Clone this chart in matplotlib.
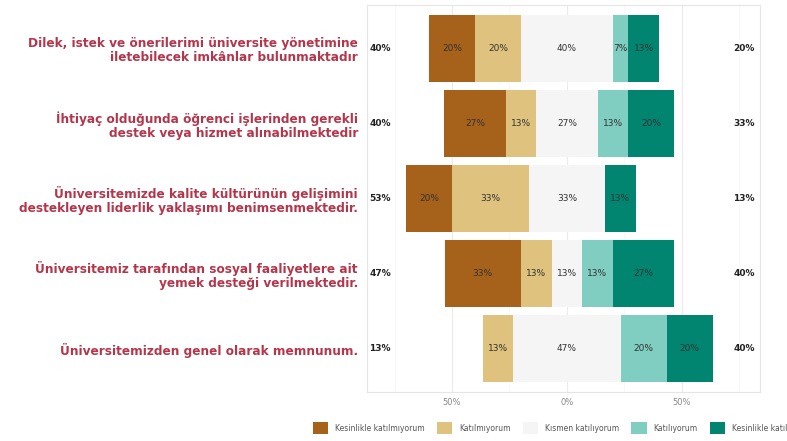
import numpy as np
import matplotlib.pyplot as plt
from matplotlib.patches import Patch

# ---------- Datos ----------
items = [
    "Dilek, istek ve önerilerimi üniversite yönetimine\niletebilecek imkânlar bulunmaktadır",
    "İhtiyaç olduğunda öğrenci işlerinden gerekli\ndestek veya hizmet alınabilmektedir",
    "Üniversitemizde kalite kültürünün gelişimini\ndestekleyen liderlik yaklaşımı benimsenmektedir.",
    "Üniversitemiz tarafından sosyal faaliyetlere ait\nyemek desteği verilmektedir.",
    "Üniversitemizden genel olarak memnunum.",
]
levels = ["Kesinlikle katılmıyorum", "Katılmıyorum", "Kısmen katılıyorum",
          "Katılıyorum", "Kesinlikle katılıyorum"]
k_kesin_hayir = [20.0, 26.7, 20.0, 33.3, 0.0]
k_hayir = [20.0, 13.3, 33.3, 13.3, 13.3]
k_kismen = [40.0, 26.7, 33.3, 13.3, 46.7]
k_evet = [6.7, 13.3, 0.0, 13.3, 20.0]
k_kesin_evet = [13.3, 20.0, 13.3, 26.7, 20.0]
colors = ["#A6611A", "#DFC27D", "#F5F5F5", "#80CDC1", "#018571"]
ticks = [-50, 0, 50]

series = np.array([k_kesin_hayir, k_hayir, k_kismen, k_evet, k_kesin_evet])
n = len(items)
ypos = np.arange(n)[::-1] + 1  # primer ítem arriba

fig = plt.figure(figsize=(7.87, 4.41), dpi=100)
ax = fig.add_axes([367 / 787, 1 - 392 / 441, (760 - 367) / 787, (392 - 5) / 441])

# ---------- Barras divergentes ----------
starts = -series[0] - series[1] - series[2] / 2
for j in range(5):
    ax.barh(ypos, series[j], left=starts, height=0.9, color=colors[j], zorder=2)
    for i in range(n):
        v = series[j][i]
        if v > 0:
            ax.text(starts[i] + v / 2, ypos[i], f"{v:.0f}%", ha="center", va="center",
                    fontsize=6.5, color="#333333", zorder=3)
    starts = starts + series[j]

low = series[0] + series[1]
high = series[3] + series[4]
for i in range(n):
    ax.text(-86, ypos[i], f"{low[i]:.0f}%", ha="left", va="center",
            fontsize=6.5, fontweight="bold", color="#222222")
    ax.text(77, ypos[i], f"{high[i]:.0f}%", ha="center", va="center",
            fontsize=6.5, fontweight="bold", color="#222222")

ax.set_xlim(-87, 84)
ax.set_ylim(0.42, 5.58)
ax.set_xticks(ticks)
ax.set_xticklabels([f"{abs(t)}%" for t in ticks], fontsize=6, color="#888888")
ax.set_xticks([-75, -25, 25, 75], minor=True)
ax.tick_params(axis="x", length=0, pad=4, which="both")
ax.grid(True, axis="x", which="major", color="#EBEBEB", lw=0.8, zorder=0)
ax.grid(True, axis="x", which="minor", color="#F5F5F5", lw=0.5, zorder=0)
ax.set_yticks(ypos)
ax.set_yticklabels(items, fontsize=8.7, fontweight="bold", color="#B5364B",
                   ha="right", multialignment="right", linespacing=1.1)
ax.tick_params(axis="y", length=0, pad=6.5)
for s in ax.spines.values():
    s.set_color("#E5E5E5")
    s.set_linewidth(0.8)

# ---------- Leyenda ----------
handles = [Patch(facecolor=c, edgecolor="none") for c in colors]
fig.legend(handles, levels, loc="lower left", bbox_to_anchor=(306 / 787, 0.0),
           ncol=5, fontsize=5.5, frameon=False, handlelength=2.0, handleheight=2.0,
           columnspacing=1.6, handletextpad=0.9, labelcolor="#555555")

fig.savefig("out.png", dpi=100)
